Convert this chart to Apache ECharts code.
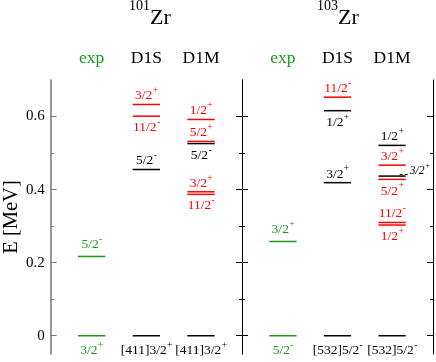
<!DOCTYPE html>
<html>
<head>
<meta charset="utf-8">
<script src="https://cdn.jsdelivr.net/npm/echarts@6/dist/echarts.min.js"></script>
<style>
html,body{margin:0;padding:0;background:#fff;}
#chart{width:436px;height:362px;}
</style>
</head>
<body>
<div id="chart"></div>
<script>
// ---------- data ----------
const nuclei = ['101', '103'];
const columns = ['exp', 'D1S', 'D1M'];
const yMajorTicks = [0, 0.2, 0.4, 0.6];
const yMinorTicks = [0.1, 0.3, 0.5];

// each level: [energy (MeV), spin label, parity, colour group, label placement]
const zr101_exp = [[0, '3/2', '+', 'exp', 'below'], [0.217, '5/2', '-', 'exp', 'above']];
const zr101_D1S = [[0, '[411]3/2', '+', 'k', 'below'], [0.455, '5/2', '-', 'k', 'above'],
                   [0.601, '11/2', '-', 'r', 'below'], [0.633, '3/2', '+', 'r', 'above']];
const zr101_D1M = [[0, '[411]3/2', '+', 'k', 'below'], [0.387, '11/2', '-', 'r', 'below'],
                   [0.394, '3/2', '+', 'r', 'above'], [0.526, '5/2', '-', 'k', 'below'],
                   [0.532, '5/2', '+', 'r', 'above'], [0.592, '1/2', '+', 'r', 'above']];
const zr103_exp = [[0, '5/2', '-', 'exp', 'below'], [0.258, '3/2', '+', 'exp', 'above']];
const zr103_D1S = [[0, '[532]5/2', '-', 'k', 'below'], [0.419, '3/2', '+', 'k', 'above'],
                   [0.616, '1/2', '+', 'k', 'below'], [0.653, '11/2', '-', 'r', 'above']];
const zr103_D1M = [[0, '[532]5/2', '-', 'k', 'below'], [0.303, '1/2', '+', 'r', 'below'],
                   [0.310, '11/2', '-', 'r', 'above'], [0.428, '5/2', '+', 'r', 'below'],
                   [0.437, '3/2', '+', 'k', 'side'], [0.467, '3/2', '+', 'r', 'above'],
                   [0.521, '1/2', '+', 'k', 'above']];

const panelLevels = [[zr101_exp, zr101_D1S, zr101_D1M], [zr103_exp, zr103_D1S, zr103_D1M]];

// ---------- styling ----------
const FAM = '"Liberation Serif", "Times New Roman", serif';
const GREEN = '#1a9a1a';
const COLORS = { exp: GREEN, k: '#000000', r: '#ff0000' };

const mctx = document.createElement('canvas').getContext('2d');
function tw(text, font) { mctx.font = font; return mctx.measureText(text).width; }

// flatten levels
const levels = [];
const seriesData = [[], []];
panelLevels.forEach((cols, p) => {
  cols.forEach((list, c) => {
    list.forEach(l => {
      levels.push({ E: l[0], spin: l[1], par: l[2], grp: l[3], pos: l[4], col: c });
      seriesData[p].push([c, l[0], levels.length - 1]);
    });
  });
});

function renderLevel(params, api) {
  const col = api.value(0), E = api.value(1), lv = levels[api.value(2)];
  const a = api.coord([col - 0.25, E]);
  const b = api.coord([col + 0.25, E]);
  const color = COLORS[lv.grp];
  const y = a[1];
  const children = [{
    type: 'line',
    shape: { x1: a[0], y1: y, x2: b[0], y2: y },
    style: { stroke: color, lineWidth: 1.5 }
  }];
  let fs = 13.5, sfs = 9.5, italic = '';
  if (lv.pos === 'side') { fs = 11.5; sfs = 8.5; italic = 'italic '; }
  const mf = italic + fs + 'px ' + FAM;
  const sf = italic + sfs + 'px ' + FAM;
  const wm = tw(lv.spin, mf), ws = tw(lv.par, sf);
  const cx = (a[0] + b[0]) / 2;
  let left = cx - (wm + ws) / 2;
  let cy;
  if (lv.pos === 'above') {
    const gap = lv.grp === 'exp' ? 7 : 4;
    cy = y - gap - 0.34 * fs;
  } else if (lv.pos === 'below') {
    const gap = E === 0 ? 10 : 7;
    cy = y + gap + 0.34 * fs;
  } else {
    // side label with dashed leader
    children.push({
      type: 'line',
      shape: { x1: b[0] - 6, y1: y - 1.5, x2: b[0] + 4, y2: y - 1.5 },
      style: { stroke: '#000', lineWidth: 1, lineDash: [3, 2] }
    });
    left = b[0] + 4;
    cy = y - 1.5 - 0.34 * fs;
  }
  const txtColor = lv.pos === 'side' ? '#000' : color;
  children.push({
    type: 'text',
    style: { text: lv.spin, x: left, y: cy, font: mf, fill: txtColor, align: 'left', verticalAlign: 'middle' }
  });
  children.push({
    type: 'text',
    style: { text: lv.par, x: left + wm + 0.4, y: cy - 0.34 * fs - 0.5, font: sf, fill: txtColor, align: 'left', verticalAlign: 'middle' }
  });
  return { type: 'group', children: children };
}

function yAxisDef(grid, position, major, color, width, extra) {
  return Object.assign({
    type: 'value', gridIndex: grid, position: position,
    min: -0.05, max: 0.7,
    splitLine: { show: false },
    axisLine: { show: major, onZero: false, lineStyle: { color: color, width: width } },
    axisTick: { show: true, inside: true, length: major ? 6 : 3,
                customValues: major ? yMajorTicks : yMinorTicks,
                lineStyle: { color: color, width: 1 } },
    axisLabel: { show: false }
  }, extra || {});
}

const yAxes = [
  yAxisDef(0, 'left', true, '#777', 1.5, {
    axisLabel: { show: true, customValues: yMajorTicks, fontFamily: FAM, fontSize: 15, color: '#000', margin: 6 },
    name: 'E [MeV]', nameLocation: 'middle', nameRotate: 90, nameGap: 27,
    nameTextStyle: { fontFamily: FAM, fontSize: 20.5, color: '#000' }
  }),
  yAxisDef(0, 'left', false, '#777', 1.5),
  yAxisDef(0, 'right', true, '#000', 1),
  yAxisDef(0, 'right', false, '#000', 1),
  yAxisDef(1, 'left', true, '#000', 1),
  yAxisDef(1, 'left', false, '#000', 1),
  yAxisDef(1, 'right', true, '#000', 1),
  yAxisDef(1, 'right', false, '#000', 1)
];

function xAxisDef(grid) {
  return {
    type: 'value', gridIndex: grid, position: 'top',
    min: -0.75, max: 2.75,
    splitLine: { show: false },
    axisLine: { show: false }, axisTick: { show: false },
    axisLabel: {
      show: true, customValues: [0, 1, 2], margin: 13,
      formatter: v => columns[Math.round(v)],
      color: v => (Math.round(v) === 0 ? GREEN : '#000'),
      fontFamily: FAM, fontSize: 17.5
    }
  };
}

const chart = echarts.init(document.getElementById('chart'), null, { renderer: 'canvas' });
chart.setOption({
  backgroundColor: '#fff',
  animation: false,
  grid: [
    { left: 49, width: 193, top: 80, height: 274 },
    { left: 242, width: 191, top: 80, height: 274 }
  ],
  xAxis: [xAxisDef(0), xAxisDef(1)],
  yAxis: yAxes,
  graphic: [
    { type: 'text', x: 150, y: 6, style: { text: nuclei[0], font: '14px ' + FAM, fill: '#000', align: 'right', verticalAlign: 'middle' } },
    { type: 'text', x: 150, y: 18.5, style: { text: 'Zr', font: '22px ' + FAM, fill: '#000', align: 'left', verticalAlign: 'middle' } },
    { type: 'text', x: 338, y: 6, style: { text: nuclei[1], font: '14px ' + FAM, fill: '#000', align: 'right', verticalAlign: 'middle' } },
    { type: 'text', x: 338, y: 18.5, style: { text: 'Zr', font: '22px ' + FAM, fill: '#000', align: 'left', verticalAlign: 'middle' } }
  ],
  series: [
    { type: 'custom', xAxisIndex: 0, yAxisIndex: 0, renderItem: renderLevel, data: seriesData[0], encode: { x: 0, y: 1 }, clip: false },
    { type: 'custom', xAxisIndex: 1, yAxisIndex: 4, renderItem: renderLevel, data: seriesData[1], encode: { x: 0, y: 1 }, clip: false }
  ]
});
</script>
</body>
</html>
